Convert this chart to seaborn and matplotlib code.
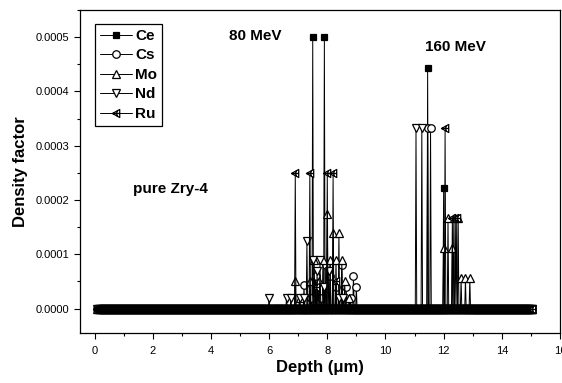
import numpy as np
import pandas as pd
import seaborn as sns
import matplotlib
matplotlib.use("Agg")
import matplotlib.pyplot as plt
from matplotlib.path import Path
from matplotlib.ticker import MultipleLocator, FormatStrFormatter

# ---------------- data ----------------
# sampling depths (um) of the simulation output, mostly zero density
depth_grid = np.round(np.arange(0.10, 15.06, 0.025), 3)

ce_depth = [7.50, 7.90, 11.45, 12.00]
ce_value = [0.000500, 0.000500, 0.000444, 0.000222]

cs_depth = [7.20, 7.45, 7.60, 7.80, 7.95, 8.10, 8.30, 8.50, 8.65, 8.80, 8.90, 9.00, 11.45, 11.55]
cs_value = [0.000043, 0.000020, 0.000060, 0.000020, 0.000080, 0.000060, 0.000040,
            0.000080, 0.000040, 0.000020, 0.000060, 0.000040, 0.000333, 0.000333]

mo_depth = [6.90, 7.05, 7.40, 7.55, 7.70, 7.85, 8.00, 8.10, 8.20, 8.30, 8.40, 8.50, 8.60, 8.75,
            12.00, 12.15, 12.30, 12.35, 12.50, 12.60, 12.75, 12.90]
mo_value = [0.000050, 0.000020, 0.000050, 0.000090, 0.000050, 0.000090, 0.000175, 0.000090,
            0.000140, 0.000090, 0.000140, 0.000090, 0.000050, 0.000020,
            0.000111, 0.000167, 0.000111, 0.000167, 0.000167, 0.0000556, 0.0000556, 0.0000556]

nd_depth = [6.00, 6.60, 6.75, 7.05, 7.20, 7.30, 7.50, 7.65, 7.75, 7.90, 8.05, 8.40, 8.55, 11.05, 11.25]
nd_value = [0.000020, 0.000020, 0.000020, 0.000020, 0.000020, 0.000125, 0.000090, 0.000070,
            0.000090, 0.000040, 0.000070, 0.000020, 0.000020, 0.000333, 0.000333]

ru_depth = [6.90, 7.40, 7.60, 8.00, 8.20, 8.30, 12.05, 12.30, 12.40, 12.45]
ru_value = [0.000250, 0.000250, 0.000040, 0.000250, 0.000250, 0.000050,
            0.000333, 0.000167, 0.000167, 0.000167]

elements = ["Ce", "Cs", "Mo", "Nd", "Ru"]
spikes = {
    "Ce": (ce_depth, ce_value),
    "Cs": (cs_depth, cs_value),
    "Mo": (mo_depth, mo_value),
    "Nd": (nd_depth, nd_value),
    "Ru": (ru_depth, ru_value),
}

x_ticks = [0, 2, 4, 6, 8, 10, 12, 14, 16]
y_ticks = [0.0, 0.0001, 0.0002, 0.0003, 0.0004, 0.0005]


def build_series(dep, val):
    v = np.zeros(len(depth_grid))
    for d, y in zip(dep, val):
        i = int(np.argmin(np.abs(depth_grid - d)))
        v[i] = y
    return pd.DataFrame({"depth": depth_grid, "density": v})


# custom marker: left triangle with a cross (Origin style)
ru_marker = Path(
    [(-1, 0), (0.8, 1), (0.8, -1), (-1, 0), (-1, 0), (0.8, 0), (0.1, 0.65), (0.1, -0.65)],
    [Path.MOVETO, Path.LINETO, Path.LINETO, Path.CLOSEPOLY,
     Path.MOVETO, Path.LINETO, Path.MOVETO, Path.LINETO],
)

styles = {
    "Ce": dict(marker="s", markersize=4.8, markerfacecolor="black"),
    "Cs": dict(marker="o", markersize=5.4, markerfacecolor="white"),
    "Mo": dict(marker="^", markersize=5.8, markerfacecolor="white"),
    "Nd": dict(marker="v", markersize=5.8, markerfacecolor="white"),
    "Ru": dict(marker=ru_marker, markersize=5.8, markerfacecolor="white"),
}

# ---------------- plot ----------------
sns.set_style("ticks")
plt.rcParams["font.family"] = ["Liberation Sans", "DejaVu Sans"]
plt.rcParams["axes.linewidth"] = 0.9
for k in ["text.color", "axes.labelcolor", "xtick.color", "ytick.color", "axes.edgecolor"]:
    plt.rcParams[k] = "black"

fig = plt.figure(figsize=(5.62, 3.83), dpi=100)
ax = fig.add_axes([80 / 562, 1 - 333 / 383, 480 / 562, 323 / 383])

for el in elements:
    df = build_series(*spikes[el])
    sns.lineplot(data=df, x="depth", y="density", ax=ax, color="black",
                 linewidth=0.7, markeredgecolor="black", markeredgewidth=0.9,
                 estimator=None, sort=True, label=el, legend=False,
                 **styles[el])

ax.set_xlim(-0.5, 16)
ax.set_ylim(-0.000045, 0.00055)
ax.set_xticks(x_ticks)
ax.set_yticks(y_ticks)
ax.xaxis.set_minor_locator(MultipleLocator(1))
ax.yaxis.set_minor_locator(MultipleLocator(0.00005))
ax.yaxis.set_major_formatter(FormatStrFormatter("%.4f"))
ax.tick_params(which="major", direction="out", length=4, width=0.8,
               labelsize=8, colors="black")
ax.tick_params(axis="x", which="major", pad=5)
ax.tick_params(which="minor", direction="out", length=2.5, width=0.8, colors="black")
for s in ax.spines.values():
    s.set_visible(True)
    s.set_color("black")

ax.set_xlabel("Depth (\u03bcm)", fontsize=12, fontweight="bold", labelpad=3, color="black")
ax.set_ylabel("Density factor", fontsize=12, fontweight="bold", labelpad=6, color="black")

ax.text(5.52, 0.000503, "80 MeV", ha="center", va="center",
        fontsize=11, fontweight="bold", color="black")
ax.text(12.39, 0.000482, "160 MeV", ha="center", va="center",
        fontsize=11, fontweight="bold", color="black")
ax.text(2.61, 0.00022, "pure Zry-4", ha="center", va="center",
        fontsize=11, fontweight="bold", color="black")

handles, labels = ax.get_legend_handles_labels()
leg = ax.legend(handles, labels, loc="upper left",
                bbox_to_anchor=(15 / 480, 1 - 14 / 323), borderaxespad=0,
                prop=dict(weight="bold", size=11), handlelength=2.1,
                handletextpad=0.2, labelspacing=0.36, borderpad=0.32,
                fancybox=False, framealpha=1, edgecolor="black", frameon=True)
leg.get_frame().set_linewidth(0.9)
for t in leg.get_texts():
    t.set_color("black")

fig.savefig("out.png", dpi=100)
